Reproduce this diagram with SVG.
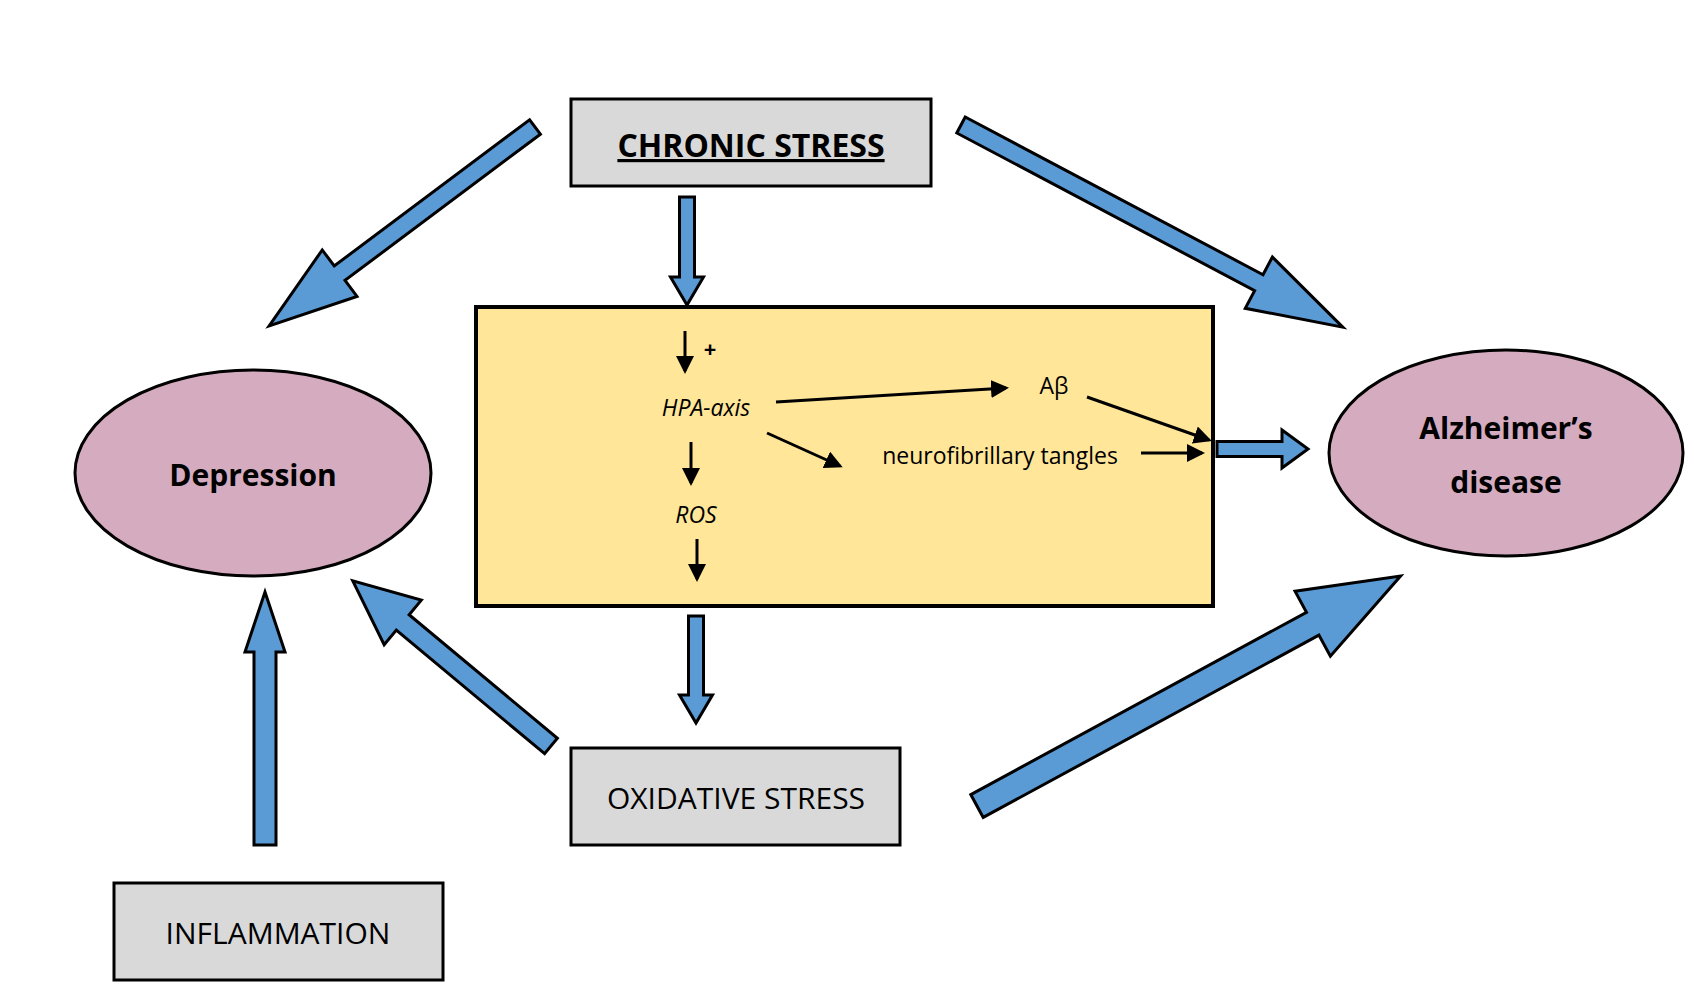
<svg xmlns="http://www.w3.org/2000/svg" width="1694" height="992" viewBox="0 0 1694 992">
<style>
.box{fill:#d9d9d9;stroke:#000;stroke-width:3}
.ell{fill:#d5abbf;stroke:#000;stroke-width:3}
.blk{fill:#5b9bd5;stroke:#000;stroke-width:3;stroke-linejoin:miter}
.t{font-family:"Open Sans","Liberation Sans",sans-serif;fill:#000;text-anchor:middle}
.s{stroke:#000;stroke-width:3;marker-end:url(#ah)}
</style>
<defs>
<marker id="ah" markerWidth="6" markerHeight="6" refX="5" refY="3" orient="auto" markerUnits="strokeWidth"><path d="M0,0 L6,3 L0,6 z" fill="#000"/></marker>
</defs>
<rect width="1694" height="992" fill="#fff"/>
<g id="chronic"><rect class="box" x="571" y="99" width="360" height="87"/><text class="t" x="751" y="157" font-size="32" font-weight="bold" text-decoration="underline">CHRONIC STRESS</text></g>
<g id="mechanism"><rect x="476" y="307" width="737" height="299" fill="#ffe699" stroke="#000" stroke-width="4"/></g>
<g id="depression"><ellipse class="ell" cx="253" cy="473" rx="178" ry="103"/><text class="t" x="253" y="486" font-size="30" font-weight="bold">Depression</text></g>
<g id="alzheimer"><ellipse class="ell" cx="1506" cy="453" rx="177" ry="103"/><text class="t" x="1506" y="439" font-size="30" font-weight="bold">Alzheimer’s</text><text class="t" x="1506" y="493" font-size="30" font-weight="bold">disease</text></g>
<g id="oxidative"><rect class="box" x="571" y="748" width="329" height="97"/><text class="t" x="736" y="809" font-size="30">OXIDATIVE STRESS</text></g>
<g id="inflammation"><rect class="box" x="114" y="883" width="329" height="97"/><text class="t" x="278" y="944" font-size="30">INFLAMMATION</text></g>
<g id="inner-labels">
<text class="t" x="710" y="357" font-size="22" font-weight="bold">+</text>
<text class="t" x="706" y="416" font-size="23" font-style="italic">HPA-axis</text>
<text class="t" x="1054" y="394" font-size="23">Aβ</text>
<text class="t" x="1000" y="464" font-size="23">neurofibrillary tangles</text>
<text class="t" x="696" y="523" font-size="23" font-style="italic">ROS</text>
</g>
<g id="connectors">
<line class="s" x1="685" y1="331" x2="685" y2="371"/>
<line class="s" x1="776" y1="402" x2="1006" y2="388"/>
<line class="s" x1="1087" y1="397" x2="1209" y2="440"/>
<line class="s" x1="767" y1="433" x2="840" y2="466"/>
<line class="s" x1="1141" y1="453" x2="1202" y2="453"/>
<line class="s" x1="691" y1="442" x2="691" y2="483"/>
<line class="s" x1="697" y1="539" x2="697" y2="579"/>
<polygon class="blk" transform="translate(535,127) rotate(143.2)" points="0,-9 244,-9 244,-29 332,0 244,29 244,9 0,9"/>
<polygon class="blk" transform="translate(961,125) rotate(27.9)" points="0,-9 337,-9 337,-29 432,0 337,29 337,9 0,9"/>
<polygon class="blk" transform="translate(687,197) rotate(90)" points="0,-7.5 80,-7.5 80,-16.5 108,0 80,16.5 80,7.5 0,7.5"/>
<polygon class="blk" transform="translate(1217,449)" points="0,-7.5 65,-7.5 65,-19 91,0 65,19 65,7.5 0,7.5"/>
<polygon class="blk" transform="translate(696,616) rotate(90)" points="0,-7.5 79,-7.5 79,-16.5 107,0 79,16.5 79,7.5 0,7.5"/>
<polygon class="blk" transform="translate(551,746) rotate(-140.2)" points="0,-10 193,-10 193,-29 258,0 193,29 193,10 0,10"/>
<polygon class="blk" transform="translate(977,806) rotate(-28.5)" points="0,-13 382,-13 382,-37 482,0 382,37 382,13 0,13"/>
<polygon class="blk" transform="translate(265,845) rotate(-90)" points="0,-11 193,-11 193,-20 253,0 193,20 193,11 0,11"/>
</g>
</svg>
